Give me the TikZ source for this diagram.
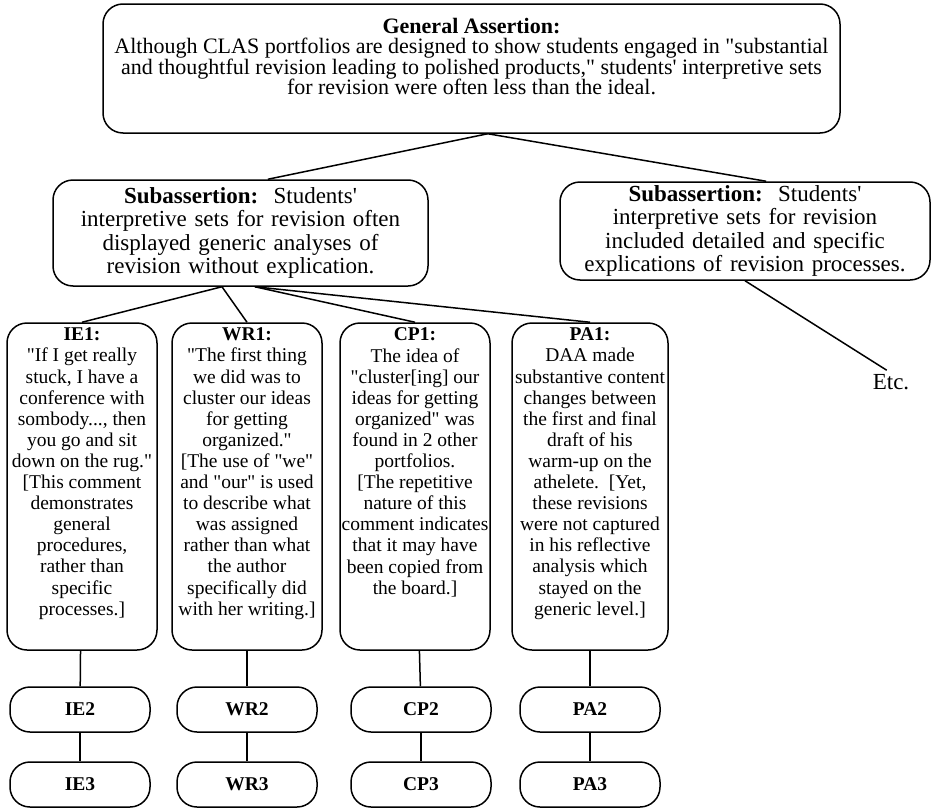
\documentclass[tikz,border=0pt]{standalone}
\usepackage{fontspec}
\setmainfont{Liberation Serif}[Ligatures=TeXOff]
\newcommand{\evtext}[2][150pt]{\begin{minipage}[c][327pt][t]{#1}\centering\fontsize{19.5}{21.1}\selectfont\vspace*{5pt}#2\end{minipage}}

\begin{document}
\begin{tikzpicture}[x=1pt,y=-1pt,line width=1.5pt,
  bigbox/.style={draw,rounded corners=20pt,inner sep=0pt},
  subbox/.style={draw,rounded corners=20pt,align=center,text width=360pt,minimum width=375pt,minimum height=106pt,inner sep=0pt,font=\fontsize{23}{23.5}\selectfont},
  evbox/.style={draw,rounded corners=20pt,inner sep=0pt},
  tagbox/.style={draw,rounded corners=20pt,minimum width=140pt,minimum height=45pt,inner sep=0pt,font=\fontsize{19.5}{21}\selectfont\bfseries}]
\useasboundingbox (0,0) rectangle (937,811);
\node[bigbox] (gen) at (471.5,68.5) {\begin{minipage}[c][129pt][t]{737pt}\centering\fontsize{22}{20.5}\selectfont\vspace*{14pt}
\textbf{General Assertion:}\\
Although CLAS portfolios are designed to show students engaged in "substantial\\
and thoughtful revision leading to polished products," students' interpretive sets\\
for revision were often less than the ideal.\end{minipage}};
\node[subbox] (lsub) at (240.5,233) {\textbf{Subassertion:}\ \ Students'\\ interpretive sets for revision often\\ displayed generic analyses of\\ revision without explication.};
\node[subbox,minimum width=370pt,minimum height=98pt] (rsub) at (745,231) {\textbf{Subassertion:}\ \ Students'\\ interpretive sets for revision\\ included detailed and specific\\ explications of revision processes.};
\node[font=\fontsize{23}{23}\selectfont] (etc) at (891,382) {Etc.};
\node[evbox] (ie1) at (82,486.5) {\evtext{\textbf{IE1:}\\ "If I get really\\ stuck, I have a\\ conference with\\ sombody..., then\\ you go and sit\\ down on the rug."\\{}[This comment\\ demonstrates\\ general\\ procedures,\\ rather than\\ specific\\ processes.]}};
\node[evbox] (wr1) at (247,486.5) {\evtext{\textbf{WR1:}\\ "The first thing\\ we did was to\\ cluster our ideas\\ for getting\\ organized."\\{}[The use of "we"\\ and "our" is used\\ to describe what\\ was assigned\\ rather than what\\ the author\\ specifically did\\ with her writing.]}};
\node[evbox] (cp1) at (415,486.5) {\evtext{\textbf{CP1:}\\ The idea of\\ "cluster[ing] our\\ ideas for getting\\ organized" was\\ found in 2 other\\ portfolios.\\{}[The repetitive\\ nature of this\\ comment indicates\\ that it may have\\ been copied from\\ the board.]}};
\node[evbox] (pa1) at (590,486.5) {\evtext[156pt]{\textbf{PA1:}\\ DAA made\\ substantive content\\ changes between\\ the first and final\\ draft of his\\ warm-up on the\\ athelete.\ \ [Yet,\\ these revisions\\ were not captured\\ in his reflective\\ analysis which\\ stayed on the\\ generic level.]}};
\foreach \c/\t/\x in {ie/IE/80,wr/WR/247,cp/CP/421,pa/PA/590} {
  \node[tagbox] (\c2) at (\x,709.5) {\t2};
  \node[tagbox] (\c3) at (\x,784.5) {\t3};
  \draw (\c1) -- (\c2);
  \draw (\c2) -- (\c3);
}
\draw (gen.-76) -- (lsub.63);
\draw (gen.-76) -- (rsub.67);
\draw (lsub.-109) -- (ie1.north);
\draw (lsub.-109) -- (wr1.north);
\draw (lsub.-75) -- (cp1.north);
\draw (lsub.-75) -- (pa1.north);
\draw (rsub.south) -- (etc.110);
\end{tikzpicture}
\end{document}
